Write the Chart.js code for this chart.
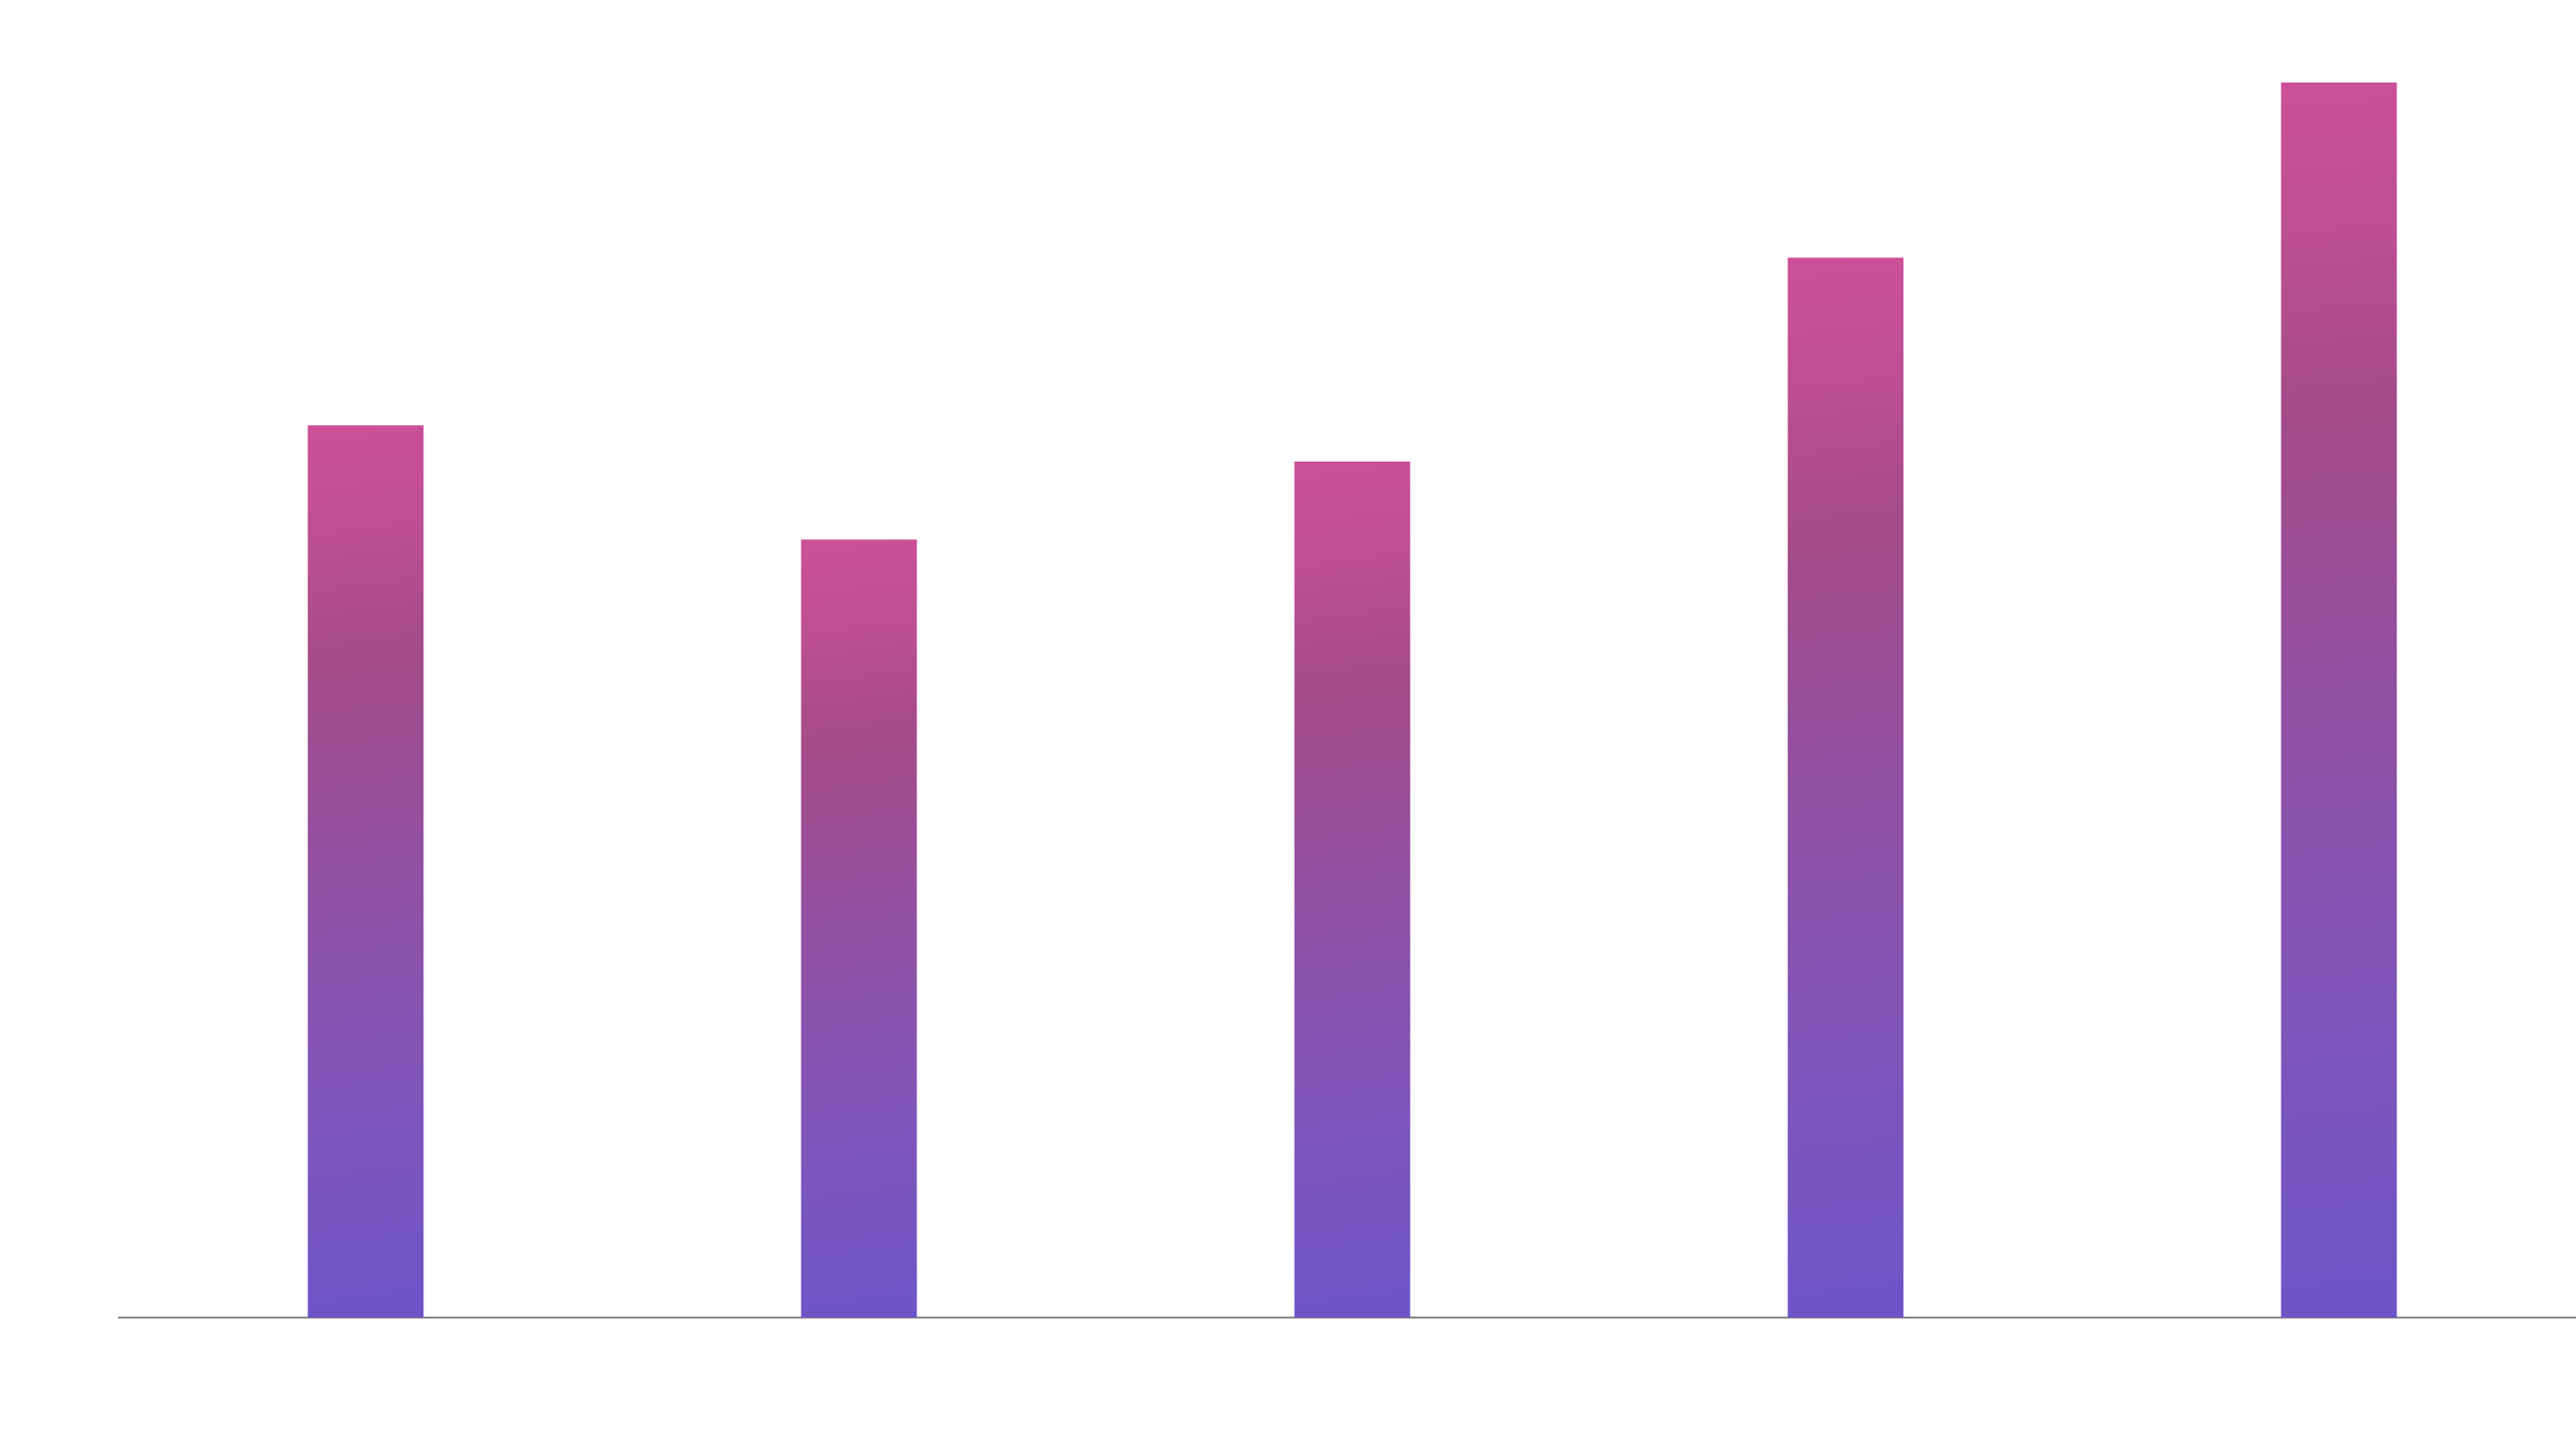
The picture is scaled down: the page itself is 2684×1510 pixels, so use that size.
<!DOCTYPE html>
<html>
<head>
<meta charset="utf-8">
<script src="https://cdn.jsdelivr.net/npm/chart.js@4.4.1/dist/chart.umd.min.js"></script>
<style>
  html, body { margin: 0; padding: 0; background: #ffffff; overflow: hidden; }
  #wrap { width: 2694px; height: 1510px; position: relative; }
</style>
</head>
<body>
<div id="wrap"><canvas id="chart"></canvas></div>
<script>
// Chart data (labels are rendered in near-white, as in the original)
const categories = ['Product Alpha', 'Product Beta', 'Product Gamma', 'Product Delta', 'Product Omega'];
const values = [68.7, 59.9, 65.9, 81.6, 95.1];
const yMin = 0;
const yMax = 100;

// Gradient stops from top of the bar down to its base
const gradientStops = [
    [0.00, '#cc5098'],
    [0.12, '#bd4f93'],
    [0.27, '#a34b88'],
    [0.50, '#9150a3'],
    [0.75, '#7f55b9'],
    [1.00, '#6c55c7']
];

// Build a gradient that runs over each bar's own height
function barGradient(context) {
    const chart = context.chart;
    const { ctx, chartArea, scales } = chart;
    if (!chartArea || context.type !== 'data') return '#9150a3';
    const top = scales.y.getPixelForValue(context.raw);
    const base = scales.y.getPixelForValue(0);
    const x = scales.x.getPixelForValue(context.dataIndex);
    const g = ctx.createLinearGradient(x - 60, top, x + 60, base);
    gradientStops.forEach(([stop, color]) => g.addColorStop(stop, color));
    return g;
}

const ctx = document.getElementById('chart').getContext('2d');
new Chart(ctx, {
    type: 'bar',
    data: {
        labels: categories,
        datasets: [{
            data: values,
            backgroundColor: barGradient,
            borderWidth: 0,
            barThickness: 120
        }]
    },
    options: {
        responsive: true,
        maintainAspectRatio: false,
        animation: false,
        layout: { padding: { top: 20, right: 0, left: 0, bottom: 0 } },
        plugins: {
            legend: { display: false },
            tooltip: { enabled: false }
        },
        scales: {
            x: {
                grid: { display: false },
                border: { display: true, color: '#858585', width: 2 },
                ticks: {
                    color: '#fefefe',
                    padding: 84,
                    font: { family: 'Roboto', size: 28 }
                },
                afterFit: (scale) => { scale.height = 137; }
            },
            y: {
                min: yMin,
                max: yMax,
                grid: { display: false },
                border: { display: false },
                ticks: { display: false },
                afterFit: (scale) => { scale.width = 124; }
            }
        }
    }
});
</script>
</body>
</html>
